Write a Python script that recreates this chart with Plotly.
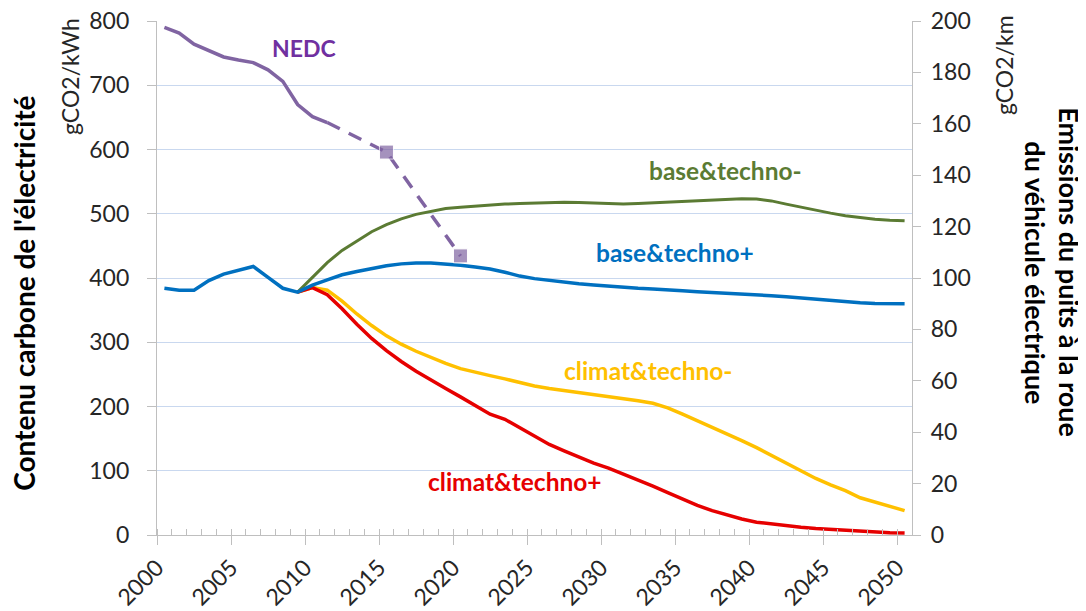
import plotly.graph_objects as go

# ---------------- data ----------------
years_all = list(range(2000, 2051))
years_scen = list(range(2009, 2051))

base_techno_plus = [384, 381, 381, 396, 406, 412, 418, 401, 384, 378,
                    389, 397, 405, 410, 415, 419, 422, 423.5, 423.5, 422,
                    420, 417, 414, 409, 403, 399, 396, 393.5, 391, 389,
                    387, 385, 384, 383, 381, 380, 378.5, 377.5, 376.5, 375.5,
                    374, 372.5, 371, 369, 367, 364.5, 362.5, 361.5, 360.5, 360,
                    360]

base_techno_minus = [378, 401, 424, 443, 458, 472, 483, 492, 499, 504,
                     508, 510, 512, 514, 515, 516, 517, 518, 518, 517.5,
                     516.5, 516, 515, 516, 517, 518, 519, 520, 521, 522.5,
                     523.5, 523, 520, 515, 510, 505, 501, 497, 494, 491.5,
                     490, 489]

climat_techno_minus = [378, 385, 381, 364, 344, 326, 310, 297, 286, 276,
                       267, 259, 253, 248, 243, 237, 232, 228, 225, 221,
                       218, 215, 212, 209, 205, 198, 188, 178, 167, 157,
                       147, 136, 124, 112, 100, 88, 78, 69, 58, 51,
                       44, 38]

climat_techno_plus = [378, 385, 374, 352, 328, 306, 287, 270, 255, 241,
                      228, 215, 202, 188, 180, 167, 154, 141, 131, 121,
                      112, 104, 95, 86, 76, 66, 56, 46, 38, 31,
                      25, 20, 17, 14, 12, 10, 8.5, 7, 5.5, 4.5,
                      3.5, 3]

nedc_years = list(range(2000, 2012))
nedc_values = [197.5, 195.3, 191, 188.5, 186, 184.8, 183.8, 181, 176.5, 167.5,
               162.8, 160.5]

nedc_proj_years = [2011, 2015, 2020]
nedc_proj_values = [160.5, 149, 108.6]

tick_years = list(range(2000, 2051, 5))
left_ticks = list(range(0, 801, 100))
right_ticks = list(range(0, 201, 20))

# ---------------- styles ----------------
FONT = "Lato"
C_GREEN = "#5b7b33"
C_BLUE = "#0070c0"
C_YELLOW = "#ffc000"
C_RED = "#e60000"
C_PURPLE_LINE = "#8064a2"
C_PURPLE_TXT = "#7030a0"
AXIS_GREY = "#bfbfbf"
GRID = "#c9d8ef"
TXT = "#262626"

fig = go.Figure()

fig.add_trace(go.Scatter(x=years_scen, y=base_techno_minus, mode="lines",
                         line=dict(color=C_GREEN, width=3), name="base&techno-"))
fig.add_trace(go.Scatter(x=years_scen, y=climat_techno_minus, mode="lines",
                         line=dict(color=C_YELLOW, width=3.5), name="climat&techno-"))
fig.add_trace(go.Scatter(x=years_scen, y=climat_techno_plus, mode="lines",
                         line=dict(color=C_RED, width=3.5), name="climat&techno+"))
fig.add_trace(go.Scatter(x=years_all, y=base_techno_plus, mode="lines",
                         line=dict(color=C_BLUE, width=3.5), name="base&techno+"))
fig.add_trace(go.Scatter(x=nedc_years, y=nedc_values, mode="lines", yaxis="y2",
                         line=dict(color=C_PURPLE_LINE, width=3.5), name="NEDC"))
fig.add_trace(go.Scatter(x=nedc_proj_years, y=nedc_proj_values, mode="lines+markers",
                         yaxis="y2",
                         line=dict(color=C_PURPLE_LINE, width=3.5, dash="14px,10px"),
                         marker=dict(symbol="square", size=[0, 14, 14],
                                     color=C_PURPLE_LINE),
                         name="NEDC objectif"))

labels = [
    ("NEDC", 2009.4, 757.5, C_PURPLE_TXT, 23),
    ("base&techno-", 2037.9, 566.7, C_GREEN, 24.5),
    ("base&techno+", 2034.5, 440, C_BLUE, 24.5),
    ("climat&techno-", 2032.7, 255.7, C_YELLOW, 24.5),
    ("climat&techno+", 2023.7, 83.8, C_RED, 24.5),
]
annotations = []
for text, x, y, col, size in labels:
    annotations.append(dict(text=f"<b>{text}</b>", x=x, y=y, xref="x", yref="y",
                            showarrow=False, xanchor="center", yanchor="middle",
                            font=dict(family=FONT, size=size, color=col)))

# page coordinates (the html body adds an 8px margin around the figure)
OFF = 8
W, H = 1086 - OFF, 611 - OFF
PLOT_L, PLOT_R, PLOT_T, PLOT_B = 157, 912, 21, 535.4
PW, PH = PLOT_R - PLOT_L, PLOT_B - PLOT_T


def px(xp):
    return (xp - PLOT_L) / PW


def py(yp):
    return (PLOT_B - yp) / PH


annotations += [
    dict(text="<b>Contenu carbone de l'électricité</b>", x=px(24), y=py(294),
         xref="paper", yref="paper", showarrow=False, textangle=-90,
         xanchor="center", yanchor="middle",
         font=dict(family=FONT, size=28, color="#000000")),
    dict(text="gCO2/kWh", x=px(70), y=py(77), xref="paper", yref="paper",
         showarrow=False, textangle=-90, xanchor="center", yanchor="middle",
         font=dict(family=FONT, size=23, color=TXT)),
    dict(text="gCO2/km", x=px(1004), y=py(65), xref="paper", yref="paper",
         showarrow=False, textangle=-90, xanchor="center", yanchor="middle",
         font=dict(family=FONT, size=23, color=TXT)),
    dict(text="<b>Emissions du puits à la roue</b>", x=px(1070), y=py(272.5),
         xref="paper", yref="paper", showarrow=False, textangle=90,
         xanchor="center", yanchor="middle",
         font=dict(family=FONT, size=27, color="#000000")),
    dict(text="<b>du véhicule électrique</b>", x=px(1036), y=py(272.5),
         xref="paper", yref="paper", showarrow=False, textangle=90,
         xanchor="center", yanchor="middle",
         font=dict(family=FONT, size=27, color="#000000")),
]

fig.update_layout(
    width=W, height=H,
    margin=dict(l=PLOT_L - OFF, r=1086 - PLOT_R, t=PLOT_T - OFF, b=611 - PLOT_B,
                autoexpand=False),
    paper_bgcolor="white", plot_bgcolor="white",
    showlegend=False,
    font=dict(family=FONT, size=23, color=TXT),
    annotations=annotations,
    xaxis=dict(
        range=[1999.5, 2050.5], automargin=False,
        tickmode="array",
        tickvals=[y - 0.5 for y in tick_years],
        ticktext=[str(y) for y in tick_years],
        tickangle=-45, ticklabeloverflow="allow",
        ticks="outside", ticklen=9, tickwidth=1, tickcolor=AXIS_GREY,
        minor=dict(tickmode="linear", tick0=1999.5, dtick=1, ticks="inside",
                   ticklen=6, tickwidth=1, tickcolor=AXIS_GREY, showgrid=False),
        showline=True, linecolor=AXIS_GREY, linewidth=1.3,
        showgrid=False, zeroline=False,
        tickfont=dict(family=FONT, size=23, color=TXT),
    ),
    yaxis=dict(
        range=[0, 800], automargin=False,
        tickmode="array", tickvals=left_ticks, ticklabeloverflow="allow",
        ticks="outside", ticklen=9, tickcolor=AXIS_GREY,
        showline=True, linecolor=AXIS_GREY, linewidth=1.3,
        showgrid=True, gridcolor=GRID, gridwidth=1, zeroline=False,
        ticklabelstandoff=13,
        tickfont=dict(family=FONT, size=23, color=TXT),
    ),
    yaxis2=dict(
        range=[0, 200], overlaying="y", side="right", automargin=False,
        tickmode="array", tickvals=right_ticks, ticklabeloverflow="allow",
        ticks="outside", ticklen=8, tickcolor=AXIS_GREY,
        showline=True, linecolor=AXIS_GREY, linewidth=1.3,
        showgrid=False, zeroline=False,
        ticklabelstandoff=5,
        tickfont=dict(family=FONT, size=23, color=TXT),
    ),
)

fig.write_html("out.html")
